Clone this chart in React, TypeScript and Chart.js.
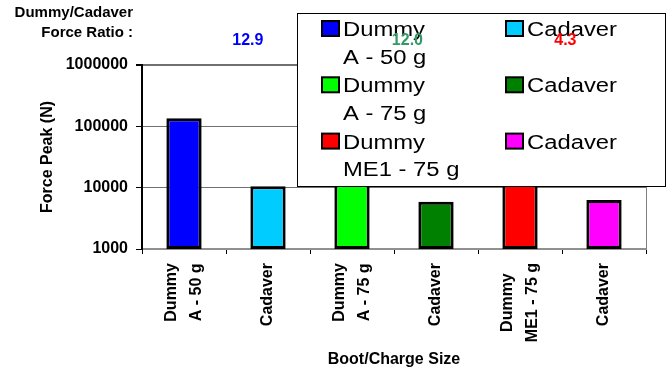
import React, { useEffect, useRef } from "react";
import { Chart, registerables } from "chart.js";

Chart.register(...registerables);

// ---- data ----
const categories: string[][] = [
  ["Dummy", "A - 50 g"],
  ["Cadaver"],
  ["Dummy", "A - 75 g"],
  ["Cadaver"],
  ["Dummy", "ME1 - 75 g"],
  ["Cadaver"],
];
const forcePeak: number[] = [136000, 10540, 70800, 5900, 27100, 6300];
const legendLabels: string[][] = [
  ["Dummy", "A - 50 g"],
  ["Cadaver"],
  ["Dummy", "A - 75 g"],
  ["Cadaver"],
  ["Dummy", "ME1 - 75 g"],
  ["Cadaver"],
];
const ratioLabels: string[] = ["12.9", "12.0", "4.3"];
const yTickValues: number[] = [1000, 10000, 100000, 1000000];
const headerLines: string[] = ["Dummy/Cadaver", "Force Ratio :"];
const yTitle = "Force Peak (N)";
const xTitle = "Boot/Charge Size";

// ---- styles ----
const barColors = ["#0000FF", "#00CCFF", "#00FF00", "#008000", "#FF0000", "#FF00FF"];
const ratioColors = ["#0000FF", "#339966", "#FF0000"];
const FONT = '"Liberation Sans", Arial, Helvetica, sans-serif';

const overlayPlugin = {
  id: "overlay",
  beforeDatasetsDraw(chart: any) {
    const { ctx, chartArea: a } = chart;
    ctx.save();
    ctx.strokeStyle = "#808080";
    ctx.lineWidth = 1;
    ctx.beginPath();
    ctx.moveTo(Math.round(a.right) + 0.5, a.top);
    ctx.lineTo(Math.round(a.right) + 0.5, a.bottom);
    ctx.stroke();
    ctx.restore();
  },
  afterDatasetsDraw(chart: any) {
    const { ctx, chartArea: a } = chart;
    // custom legend box overlapping plot
    const lx = a.left + 155;
    const ly = 13;
    const lw = 368;
    const lh = 173;
    ctx.save();
    ctx.fillStyle = "#FFFFFF";
    ctx.fillRect(lx, ly, lw, lh);
    ctx.strokeStyle = "#000000";
    ctx.lineWidth = 1;
    ctx.strokeRect(lx + 0.5, ly + 0.5, lw, lh);
    const colOff = [25, 209];
    const rowPitch = 56.3;
    const linePitch = 27.5;
    ctx.font = `20px ${FONT}`;
    ctx.textBaseline = "alphabetic";
    ctx.textAlign = "left";
    legendLabels.forEach((lines, i) => {
      const col = i % 2;
      const row = Math.floor(i / 2);
      const sx = lx + colOff[col];
      const sy = ly + 8 + row * rowPitch;
      ctx.fillStyle = barColors[i];
      ctx.fillRect(sx, sy, 17, 15);
      ctx.lineWidth = 2;
      ctx.strokeStyle = "#000";
      ctx.strokeRect(sx, sy, 17, 15);
      ctx.fillStyle = "#000";
      lines.forEach((t, j) => {
        ctx.save();
        ctx.translate(sx + 21, ly + 23 + row * rowPitch + j * linePitch);
        ctx.scale(1.19, 1);
        ctx.fillText(t, 0, 0);
        ctx.restore();
      });
    });
    ctx.restore();
  },
  afterDraw(chart: any) {
    const { ctx, chartArea: a } = chart;
    const xs = chart.scales.x;
    ctx.save();
    // x category labels, rotated, centered lines
    ctx.font = `bold 16px ${FONT}`;
    ctx.fillStyle = "#000";
    categories.forEach((lines, i) => {
      const x = xs.getPixelForValue(i);
      const W = Math.max(...lines.map((l) => ctx.measureText(l).width));
      ctx.save();
      ctx.translate(x, a.bottom + 14);
      ctx.rotate(-Math.PI / 2);
      ctx.textAlign = "center";
      ctx.textBaseline = "middle";
      lines.forEach((l, j) => {
        ctx.fillText(l, -W / 2, (j - (lines.length - 1) / 2) * 25);
      });
      ctx.restore();
    });
    // header text
    ctx.font = `bold 15px ${FONT}`;
    ctx.textAlign = "right";
    ctx.textBaseline = "middle";
    ctx.fillText(headerLines[0], 133, 13);
    ctx.fillText(headerLines[1], 133, 33);
    // ratio labels
    const catW = xs.getPixelForValue(1) - xs.getPixelForValue(0);
    const shift = [0.26, 0.16, 0.04];
    ctx.font = `bold 16px ${FONT}`;
    ctx.textAlign = "center";
    ratioLabels.forEach((r, k) => {
      const mid = (xs.getPixelForValue(2 * k) + xs.getPixelForValue(2 * k + 1)) / 2;
      ctx.fillStyle = ratioColors[k];
      ctx.fillText(r, mid + shift[k] * catW, 41);
    });
    ctx.restore();
  },
};

export default function App() {
  const ref = useRef<HTMLCanvasElement | null>(null);
  useEffect(() => {
    document.body.style.margin = "0";
    const canvas = ref.current;
    if (!canvas) return;
    const chart = new Chart(canvas, {
      type: "bar",
      data: {
        labels: categories.map((c) => c.join(" ")),
        datasets: [
          {
            data: forcePeak,
            backgroundColor: barColors,
            borderColor: "#000000",
            borderWidth: 3,
            borderSkipped: false,
            barPercentage: 0.42,
            categoryPercentage: 1,
          },
        ],
      },
      options: {
        responsive: false,
        animation: false,
        devicePixelRatio: 1,
        layout: { padding: { top: 65, right: 22, bottom: 0, left: 0 } },
        plugins: {
          legend: { display: false },
          tooltip: { enabled: false },
        },
        scales: {
          x: {
            offset: true,
            grid: {
              display: true,
              drawOnChartArea: false,
              drawTicks: true,
              tickLength: 5,
              offset: true,
              color: "#000000",
              tickColor: "#000000",
            },
            border: { display: true, color: "#909090", width: 2 },
            ticks: { display: false },
            title: {
              display: true,
              text: xTitle,
              color: "#000",
              font: { family: FONT, size: 16, weight: "bold" },
              padding: { top: 0, bottom: 4 },
            },
            afterFit(scale: any) {
              scale.height = 124;
            },
          },
          y: {
            type: "logarithmic",
            min: 1000,
            max: 1000000,
            afterBuildTicks(scale: any) {
              scale.ticks = yTickValues.map((v) => ({ value: v }));
            },
            grid: {
              color: "#707070",
              lineWidth: (c: any) => (c.tick && c.tick.value === 1000000 ? 2 : 1),
              tickColor: "#000000",
              tickLength: 6,
              drawTicks: true,
            },
            border: { display: true, color: "#000000", width: 2 },
            ticks: {
              color: "#000",
              padding: 8,
              font: { family: FONT, size: 16, weight: "bold" },
              callback: (v: any) => String(v),
            },
            title: {
              display: true,
              text: yTitle,
              color: "#000",
              font: { family: FONT, size: 16, weight: "bold" },
              padding: { top: 38, bottom: 0 },
            },
            afterFit(scale: any) {
              scale.width = 142;
            },
          },
        },
      },
      plugins: [overlayPlugin],
    } as any);
    return () => chart.destroy();
  }, []);
  return <canvas ref={ref} width={668} height={373} style={{ display: "block" }} />;
}
